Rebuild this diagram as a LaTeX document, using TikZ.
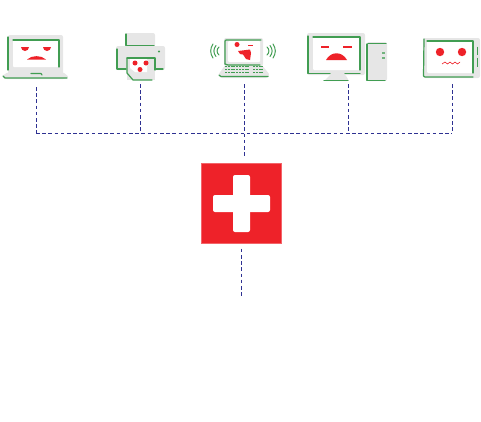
\documentclass[tikz,border=0pt]{standalone}
\definecolor{hubred}{HTML}{EE2229}
\definecolor{devgreen}{HTML}{419D52}
\definecolor{devgray}{HTML}{E6E6E6}
\definecolor{linkblue}{HTML}{2E3192}
\tikzset{
    link/.style={draw=linkblue, line width=0.8pt, dash pattern=on 3.6pt off 2.6pt},
    edge/.style={draw=devgreen, line width=1.2pt, line cap=round, line join=round},
    wave/.style={draw=devgreen, line width=1pt, line cap=round},
    shell/.style={fill=devgray, rounded corners=2pt},
    glass/.style={fill=white, rounded corners=1pt},
    face/.style={fill=hubred},
    hub/.style={fill=hubred, draw=hubred!70!white, line width=0.4pt, minimum size=80pt, inner sep=0pt},
    armbox/.style={fill=white, rounded corners=2pt}
}
\begin{document}
\begin{tikzpicture}[x=1pt, y=-1pt]
        \useasboundingbox (0,0) rectangle (481,421);

        % hub
        \node[hub] (hub) at (241.5,203.5) {};
        \fill[armbox] (213,195) rectangle (270,212);
        \fill[armbox] (233,175) rectangle (250,232);

        % laptop
        \fill[shell] (8,35) rectangle (63,75);
        \fill[shell] (8,72) -- (63,72) -- (69,77) -- (65,79) -- (5,79) -- (2,76) -- cycle;
        \fill[glass] (13,40) rectangle (59,67);
        \draw[edge] (13,40) -- (59,40) -- (59,67);
        \draw[edge] (8,70) -- (8,37);
        \draw[edge] (3,76) -- (5,78) -- (67,78);
        \draw[edge] (31,73.5) -- (41,73.5) -- (42,75);
        \fill[face] (21,47) arc[start angle=180, end angle=0, radius=4] -- cycle;
        \fill[face] (43,47) arc[start angle=180, end angle=0, radius=4] -- cycle;
        \fill[face] (27,59.5) .. controls (32,55) and (41,55) .. (46,59.5) -- cycle;

        % printer
        \fill[shell] (125,33) rectangle (155,47);
        \fill[shell] (116,46) rectangle (165,70);
        \draw[edge] (126,34) -- (126,45.5) -- (154,45.5);
        \draw[edge] (117,49) -- (117,69) -- (126,69);
        \draw[edge] (155,69) -- (163,69);
        \fill[devgray] (127,58) rectangle (155,80);
        \fill[white] (130,59) -- (147,59) -- (147,72) -- (135,72) -- (130,68) -- cycle;
        \draw[edge] (127,58) -- (155,58) -- (155,70);
        \draw[edge] (127,58) -- (127,73) -- (133,80) -- (152,80);
        \fill[devgreen] (159,51.5) circle (1.2);
        \fill[face] (135,63) circle (2.5);
        \fill[face] (146,63) circle (2.5);
        \fill[face] (140,69.5) circle (2.5);

        % laptop with wifi
        \fill[shell] (224,38) rectangle (263,66);
        \fill[shell] (226,64) -- (261,64) -- (270,75) -- (268,78) -- (220,78) -- (218,75) -- cycle;
        \fill[glass] (228,41) rectangle (260,62);
        \draw[edge] (225,64) -- (225,41) -- (226,40) -- (261,40);
        \draw[edge] (225,64) -- (228,65) -- (260,65);
        \draw[edge] (219,75) -- (221,76.5) -- (268,76.5);
        \foreach \row in {66,69,72}{
            \draw[devgreen, line width=1.2pt, dash pattern=on 2pt off 0.8pt] (225,\row+0.5) -- (250,\row+0.5);
            \draw[devgreen, line width=1.2pt, dash pattern=on 2pt off 0.8pt] (253,\row+0.5) -- (264,\row+0.5);
        }
        \foreach \r in {0,3,6}{
            \draw[wave] (219-\r,47-\r/2) .. controls (216.5-\r*1.1,49) and (216.5-\r*1.1,53) .. (219-\r,55+\r/2);
            \draw[wave] (267+\r,47-\r/2) .. controls (269.5+\r*1.1,49) and (269.5+\r*1.1,53) .. (267+\r,55+\r/2);
        }
        \fill[face] (237,44.5) circle (2.5);
        \fill[face] (248,44.5) rectangle (253,46);
        \fill[face] (238,51) -- (250,49.5) -- (251,53) -- (250,60) -- (246,59) -- (243,54.5) -- (240,54) -- cycle;

        % desktop
        \fill[shell] (307,33) rectangle (365,75);
        \fill[shell] (331,74) -- (345,74) -- (349,81) -- (324,81) -- cycle;
        \fill[glass] (313,37) rectangle (360,70);
        \draw[edge] (313,37) -- (360,37) -- (360,70);
        \draw[edge] (308,36) -- (308,73.5) -- (330,73.5);
        \draw[edge] (345,73.5) -- (360,73.5);
        \draw[edge] (324,80.5) -- (348,80.5);
        \fill[shell] (367,42) rectangle (387,81);
        \draw[edge] (367,44) -- (367,80.5) -- (385,80.5);
        \draw[edge] (368,43.5) -- (386,43.5);
        \fill[devgreen!70!devgray] (382,52) rectangle (384.5,54);
        \fill[devgreen!70!devgray] (382,57) rectangle (384.5,59);
        \fill[face] (321,46) rectangle (329,48);
        \fill[face] (343,46) rectangle (352,48);
        \fill[face] (326,60) .. controls (331,51) and (342,51) .. (347,60) -- cycle;

        % tablet
        \fill[shell] (423,38) rectangle (480,78);
        \fill[glass] (427,41) rectangle (473,73);
        \draw[edge] (427,41) -- (473,41) -- (473,73);
        \draw[edge] (424,39) -- (423.5,76) -- (425,77) -- (473,77);
        \draw[devgreen, line width=0.8pt] (477,46.5) -- (477,55);
        \draw[devgreen, line width=0.8pt] (477,57.5) -- (477,67);
        \fill[face] (440,52) circle (4.2);
        \fill[face] (462,52) circle (4.2);
        \draw[hubred, line width=0.6pt] (442,64) -- (445,62) -- (447.5,64) -- (450,62) -- (452.5,64) -- (455,62) -- (457.5,64) -- (460,62);

        % links
        \coordinate (foota) at (36,87);
        \coordinate (footb) at (140,84);
        \coordinate (footc) at (244,84);
        \coordinate (footd) at (348,84);
        \coordinate (foote) at (452,84);
        \coordinate (busa) at (36,133);
        \coordinate (busb) at (140,133);
        \coordinate (busd) at (348,133);
        \coordinate (buse) at (452,133);
        \coordinate (hubin) at (244,156);
        \coordinate (hubout) at (241,296);

        \draw[link] (foota) -- (busa);
        \draw[link] (footb) -- (busb);
        \draw[link] (footc) -- (hubin);
        \draw[link] (footd) -- (busd);
        \draw[link] (foote) -- (buse);
        \draw[link] (busa) -- (buse);
        \draw[link] (hub.south -| hubout) ++(0,5) -- (hubout);
\end{tikzpicture}
\end{document}
